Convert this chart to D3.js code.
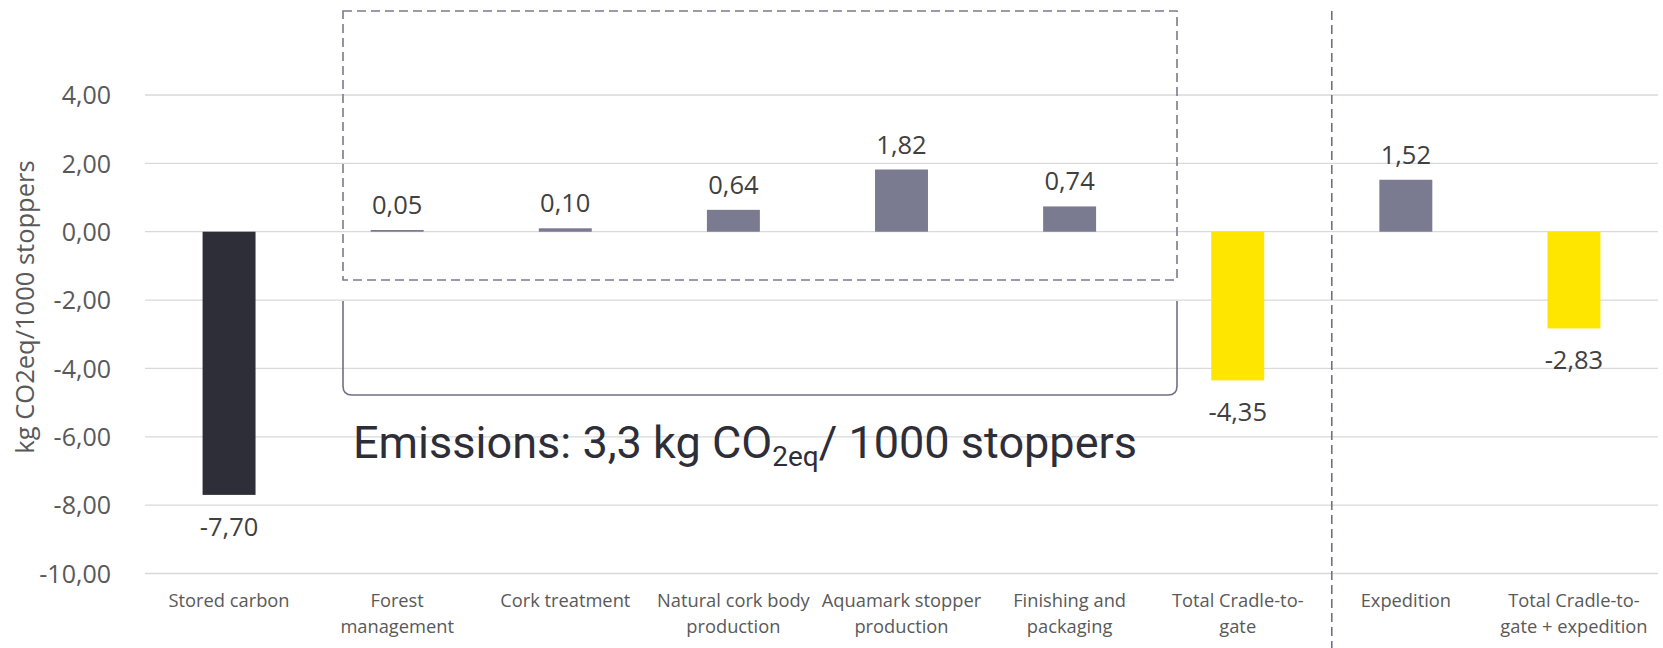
<!DOCTYPE html>
<html><head><meta charset="utf-8">
<script src="https://cdn.jsdelivr.net/npm/d3@7"></script>
<style>body{margin:0;background:#fff;} svg{display:block;}</style>
</head><body>
<svg id="chart" width="1663" height="648"></svg>
<script>
// ---- data ----
const categories = ["Stored carbon","Forest management","Cork treatment","Natural cork body production","Aquamark stopper production","Finishing and packaging","Total Cradle-to-gate","Expedition","Total Cradle-to-gate + expedition"];
const categoryLines = [["Stored carbon"],["Forest","management"],["Cork treatment"],["Natural cork body","production"],["Aquamark stopper","production"],["Finishing and","packaging"],["Total Cradle-to-","gate"],["Expedition"],["Total Cradle-to-","gate + expedition"]];
const values = [-7.70, 0.05, 0.10, 0.64, 1.82, 0.74, -4.35, 1.52, -2.83];
const barKinds = ["stored","emission","emission","emission","emission","emission","total","emission","total"];
const yTicks = [4, 2, 0, -2, -4, -6, -8, -10];
const yTitle = "kg CO2eq/1000 stoppers";
const noteMain = "Emissions: 3,3 kg CO";
const noteSub = "2eq";
const noteTail = "/ 1000 stoppers";

// ---- style ----
const colors = {stored:"#2e2e38", emission:"#7a7a91", total:"#ffe600"};
const fmt = v => d3.format(".2f")(v).replace(".", ",").replace("−","-");
const FONT = "'Open Sans', 'Noto Sans', sans-serif";

const svg = d3.select("#chart");
const W = 1663, H = 648;
const m = {left:145, right:5, top:95, bottom:74};

const x = d3.scaleBand().domain(categories).range([m.left, W - m.right]).paddingInner(0.685).paddingOuter(0.3425);
const y = d3.scaleLinear().domain([-10, 4]).range([573.5, 95]);

// gridlines
const grid = svg.append("g").attr("class","grid");
grid.selectAll("line").data(yTicks).join("line")
  .attr("x1", m.left).attr("x2", W - m.right)
  .attr("y1", d => y(d)).attr("y2", d => y(d))
  .attr("stroke", "#d9d9d9").attr("stroke-width", 1.3);

// y axis labels via d3 axis
const yAxis = d3.axisLeft(y).tickValues(yTicks).tickFormat(fmt).tickSize(0).tickPadding(0);
const ya = svg.append("g").attr("transform", "translate(111,0)").call(yAxis);
ya.select(".domain").remove();
ya.selectAll("text").attr("font-family", FONT).attr("font-size", 25).attr("fill", "#595959").attr("dy","0.35em");

// y title
svg.append("text")
  .attr("transform", `translate(24,307) rotate(-90)`)
  .attr("text-anchor","middle").attr("dominant-baseline","central")
  .attr("font-family", FONT).attr("font-size", 25.5).attr("fill", "#595959")
  .text(yTitle);

// bars
svg.append("g").selectAll("rect").data(values).join("rect")
  .attr("x", (d,i) => x(categories[i]))
  .attr("width", x.bandwidth())
  .attr("y", d => y(Math.max(0,d)))
  .attr("height", d => Math.abs(y(d) - y(0)))
  .attr("fill", (d,i) => colors[barKinds[i]]);

// data labels
svg.append("g").selectAll("text").data(values).join("text")
  .attr("x", (d,i) => x(categories[i]) + x.bandwidth()/2)
  .attr("y", d => d >= 0 ? y(d) - 26 : y(d) + 31)
  .attr("text-anchor","middle").attr("dominant-baseline","central")
  .attr("font-family", FONT).attr("font-size", 25.5).attr("fill", "#404040")
  .text(d => fmt(d));

// category labels
const cl = svg.append("g").selectAll("text").data(categoryLines).join("text")
  .attr("text-anchor","middle")
  .attr("font-family", FONT).attr("font-size", 18.3).attr("fill", "#595959");
cl.each(function(lines, i){
  const t = d3.select(this);
  const cx = x(categories[i]) + x.bandwidth()/2;
  lines.forEach((ln, k) => {
    t.append("tspan").attr("x", cx).attr("y", 607 + k*26).text(ln);
  });
});

// ---- annotations ----
const step = x.step();
const boxL = 343, boxR = 1177;
svg.append("rect")
  .attr("x", boxL).attr("y", 11).attr("width", boxR - boxL).attr("height", 280 - 11)
  .attr("fill","none").attr("stroke","#7a7a91").attr("stroke-width",1.6)
  .attr("stroke-dasharray","9,5");

// bracket
const bT = 301, bB = 395, r = 9;
svg.append("path")
  .attr("d", `M${boxL},${bT} L${boxL},${bB-r} Q${boxL},${bB} ${boxL+r},${bB} L${boxR-r},${bB} Q${boxR},${bB} ${boxR},${bB-r} L${boxR},${bT}`)
  .attr("fill","none").attr("stroke","#6f6f85").attr("stroke-width",1.6);

// separator dashed line
const sepX = x(categories[7]) - (step - x.bandwidth())/2 + 10;
svg.append("line")
  .attr("x1", sepX).attr("x2", sepX).attr("y1", 11).attr("y2", H)
  .attr("stroke","#6f6f85").attr("stroke-width",1.6).attr("stroke-dasharray","9,5");

// emissions note
const NOTEFONT = "Roboto, 'Open Sans', sans-serif";
const note = svg.append("text")
  .attr("x", 353).attr("y", 458)
  .attr("font-family", NOTEFONT).attr("font-size", 38).attr("fill", "#2e2e38").attr("font-weight", 400);
note.append("tspan").text(noteMain);
note.append("tspan").attr("font-size", 25).attr("dy", 8).text(noteSub);
note.append("tspan").attr("dy", -8).text(noteTail);
// fit width to reference extent
const targetW = 787;
const wNow = note.node().getComputedTextLength();
const s = 38 * targetW / wNow;
note.attr("font-size", s);
note.select("tspan:nth-child(2)").attr("font-size", s*0.62);
</script>
</body></html>
